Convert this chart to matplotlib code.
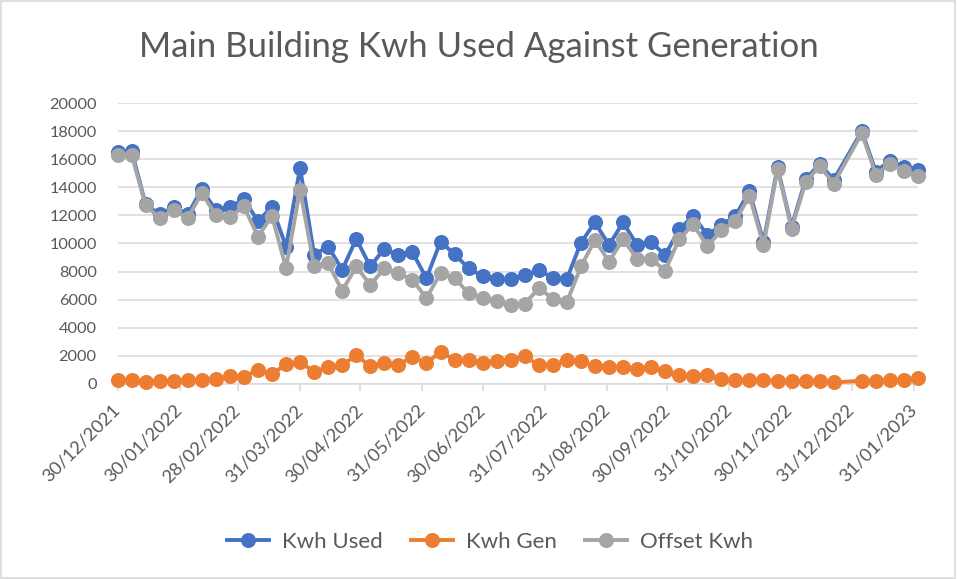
import matplotlib
matplotlib.use('Agg')
import matplotlib.pyplot as plt
from matplotlib.patches import Rectangle
from matplotlib.lines import Line2D
import pandas as pd

# ---------------- data ----------------
dates = ['2021-12-30', '2022-01-06', '2022-01-13', '2022-01-20', '2022-01-27',
         '2022-02-03', '2022-02-10', '2022-02-17', '2022-02-24', '2022-03-03',
         '2022-03-10', '2022-03-17', '2022-03-24', '2022-03-31', '2022-04-07',
         '2022-04-14', '2022-04-21', '2022-04-28', '2022-05-05', '2022-05-12',
         '2022-05-19', '2022-05-26', '2022-06-02', '2022-06-09', '2022-06-16',
         '2022-06-23', '2022-06-30', '2022-07-07', '2022-07-14', '2022-07-21',
         '2022-07-28', '2022-08-04', '2022-08-11', '2022-08-18', '2022-08-25',
         '2022-09-01', '2022-09-08', '2022-09-15', '2022-09-22', '2022-09-29',
         '2022-10-06', '2022-10-13', '2022-10-20', '2022-10-27', '2022-11-03',
         '2022-11-10', '2022-11-17', '2022-11-24', '2022-12-01', '2022-12-08',
         '2022-12-15', '2022-12-22', '2023-01-05', '2023-01-12', '2023-01-19',
         '2023-01-26', '2023-02-02']

kwh_used = [16550, 16600, 12780, 12070, 12590, 12070, 13870, 12360, 12590, 13150,
            11590, 12600, 9770, 15390, 9200, 9780, 8120, 10320, 8360, 9640,
            9180, 9370, 7530, 10130, 9230, 8240, 7650, 7480, 7480, 7760,
            8120, 7530, 7480, 10060, 11500, 9890, 11500, 9890, 10080, 9180,
            11000, 11980, 10600, 11300, 11970, 13710, 10100, 15420, 11200, 14560,
            15680, 14530, 18000, 15120, 15900, 15420, 15250]

kwh_gen = [280, 280, 100, 220, 220, 260, 300, 360, 540, 480,
           1010, 690, 1400, 1550, 870, 1210, 1330, 2040, 1250, 1490,
           1370, 1920, 1490, 2270, 1730, 1680, 1490, 1610, 1730, 1960,
           1330, 1370, 1690, 1610, 1250, 1230, 1170, 1050, 1170, 940,
           600, 580, 650, 320, 250, 300, 300, 200, 200, 180,
           180, 110, 220, 180, 250, 250, 400]

offset_kwh = [16300, 16330, 12720, 11800, 12380, 11800, 13600, 12010, 11880, 12650,
              10480, 11970, 8260, 13840, 8370, 8590, 6630, 8360, 7050, 8220,
              7880, 7410, 6110, 7880, 7530, 6460, 6110, 5870, 5650, 5700,
              6820, 6080, 5820, 8360, 10250, 8710, 10300, 8900, 8900, 8070,
              10320, 11360, 9800, 10930, 11600, 13410, 9860, 15300, 11050, 14360,
              15530, 14260, 17850, 14910, 15650, 15180, 14830]

tick_dates = ['2021-12-30', '2022-01-30', '2022-02-28', '2022-03-31', '2022-04-30',
              '2022-05-31', '2022-06-30', '2022-07-31', '2022-08-31', '2022-09-30',
              '2022-10-31', '2022-11-30', '2022-12-31', '2023-01-31']

y_ticks = [0, 2000, 4000, 6000, 8000, 10000, 12000, 14000, 16000, 18000, 20000]

title = 'Main Building Kwh Used Against Generation'
series_names = ['Kwh Used', 'Kwh Gen', 'Offset Kwh']
colors = ['#4472C4', '#ED7D31', '#A5A5A5']

# ---------------- plot ----------------
plt.rcParams['font.family'] = ['Lato', 'DejaVu Sans']
text_color = '#595959'
grid_color = '#D9D9D9'

x = pd.to_datetime(dates)
ticks = pd.to_datetime(tick_dates)

fig = plt.figure(figsize=(9.57, 5.79), dpi=100)
ax = fig.add_axes([0.1228, 0.337, 0.9592 - 0.1228, 0.822 - 0.337])

for vals, col, name in zip([kwh_used, kwh_gen, offset_kwh], colors, series_names):
    ax.plot(x, vals, color=col, lw=2.8, marker='o', ms=9.8, mec=col, mfc=col,
            label=name, solid_joinstyle='round', clip_on=False, zorder=3)

ax.set_xlim(x[0], x[-1])
ax.set_ylim(0, 20000)
ax.set_yticks(y_ticks)
ax.set_yticklabels([str(v) for v in y_ticks])
ax.set_xticks(ticks)
ax.set_xticklabels([d.strftime('%d/%m/%Y') for d in ticks], rotation=45,
                   ha='right', va='center', rotation_mode='anchor')

ax.grid(axis='y', color=grid_color, lw=1.1, zorder=0)
for s in ['top', 'right', 'left']:
    ax.spines[s].set_visible(False)
ax.spines['bottom'].set_color(grid_color)
ax.spines['bottom'].set_linewidth(1.1)
ax.tick_params(axis='y', length=0, pad=15, labelsize=11.8, labelcolor=text_color)
ax.tick_params(axis='x', length=5, width=1.1, color=grid_color, pad=12,
               labelsize=13.2, labelcolor=text_color)

fig.text(0.5, 0.918, title, ha='center', va='center', fontsize=25,
         color=text_color)

handles = [Line2D([0], [0], color=c, lw=2.8, marker='o', ms=9.8) for c in colors]
fig.legend(handles, series_names, loc='center', bbox_to_anchor=(0.512, 0.064),
           ncol=3, frameon=False, fontsize=16, labelcolor=text_color,
           handlelength=1.9, columnspacing=1.25, handletextpad=0.6)

fig.patches.append(Rectangle((0.001, 0.002), 0.997, 0.996, transform=fig.transFigure,
                             fill=False, edgecolor=grid_color, lw=1.2))

fig.savefig('out.png', dpi=100)
